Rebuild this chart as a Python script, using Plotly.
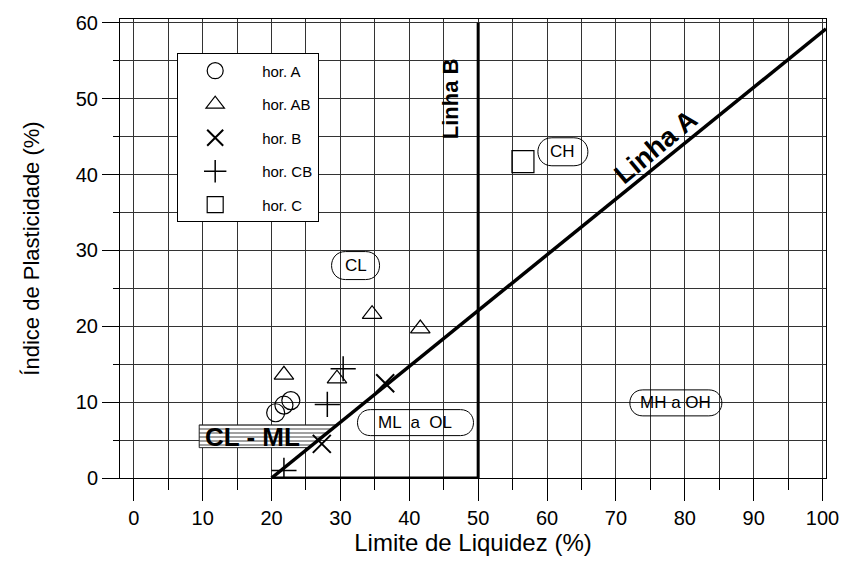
import plotly.graph_objects as go

# ---------------- data ----------------
series_names = ["hor. A", "hor. AB", "hor. B", "hor. CB", "hor. C"]
horA_x = [21.8, 22.8, 20.6]
horA_y = [9.6, 10.2, 8.6]
horAB_x = [21.8, 29.5, 34.6, 41.6]
horAB_y = [13.6, 13.1, 21.6, 19.7]
horB_x = [36.5, 27.3]
horB_y = [12.5, 4.5]
horCB_x = [30.4, 28.1, 21.8]
horCB_y = [14.4, 9.7, 1.0]
horC_x = [56.5]
horC_y = [41.7]

# reference lines of the plasticity chart
lineA_x = [20, 100.5]
lineA_y = [0, 59.2]
lineB_x = [50, 50]
lineB_y = [0, 60]
base_x = [20, 50]
base_y = [0, 0]
# CL-ML hatched band
band_x = [9.5, 25.5, 29.6, 9.5, 9.5]
band_y = [4, 4, 7, 7, 4]

x_ticks = [0, 10, 20, 30, 40, 50, 60, 70, 80, 90, 100]
y_ticks = [0, 10, 20, 30, 40, 50, 60]

FONT = "Liberation Sans, Arial, sans-serif"

fig = go.Figure()

# hatched band
fig.add_trace(go.Scatter(
    x=band_x, y=band_y, mode="lines", fill="toself",
    line=dict(color="#222", width=1),
    fillcolor="rgba(0,0,0,0)",
    fillpattern=dict(shape="-", fgcolor="#444", bgcolor="white", size=4, solidity=0.5),
    showlegend=False, hoverinfo="skip"))

for lx, ly, w in [(lineA_x, lineA_y, 3.5), (lineB_x, lineB_y, 3), (base_x, base_y, 3)]:
    fig.add_trace(go.Scatter(x=lx, y=ly, mode="lines",
                             line=dict(color="black", width=w),
                             showlegend=False, hoverinfo="skip"))

marker_specs = [
    (horA_x, horA_y, "circle-open", 18, 1.2),
    (horAB_x, horAB_y, "triangle-up-open", 17, 1.2),
    (horB_x, horB_y, "x-thin-open", 18, 2),
    (horCB_x, horCB_y, "cross-thin-open", 18, 1.5),
    (horC_x, horC_y, "square-open", 22, 1.2),
]
for name, (mx, my, sym, sz, lw) in zip(series_names, marker_specs):
    fig.add_trace(go.Scatter(
        x=mx, y=my, mode="markers", name=name, legendgroup=name,
        marker=dict(symbol=sym, size=sz, color="black",
                    line=dict(color="black", width=lw))))

# stadium-shaped label boxes
def stadium(W, H):
    k = 1.333 * H
    a = W - H
    return (f"M {-a},{-H} L {a},{-H} C {a + k},{-H} {a + k},{H} {a},{H} "
            f"L {-a},{H} C {-a - k},{H} {-a - k},{-H} {-a},{-H} Z")

labels = [
    ("CL", 32.2, 28.0, 24, 14),
    ("CH", 62.3, 43.0, 25, 14),
    ("MH a OH", 78.7, 9.9, 46, 13),
    ("ML  a  OL", 40.9, 7.3, 58, 13),
]
for txt, lx, ly, W, H in labels:
    fig.add_shape(type="path", xref="x", yref="y", xsizemode="pixel", ysizemode="pixel",
                  xanchor=lx, yanchor=ly, path=stadium(W, H),
                  line=dict(color="black", width=1))
    fig.add_annotation(x=lx, y=ly, text=txt, showarrow=False,
                       font=dict(family=FONT, size=17, color="black"))

fig.add_annotation(x=17.2, y=5.4, text="<b>CL - ML</b>", showarrow=False,
                   font=dict(family=FONT, size=26, color="black"))
fig.add_annotation(x=46.0, y=50.0, text="<b>Linha B</b>", textangle=-90, showarrow=False,
                   font=dict(family=FONT, size=22, color="black"))
fig.add_annotation(x=75.8, y=43.6, text="<b>Linha A</b>", textangle=-40, showarrow=False,
                   font=dict(family=FONT, size=27, color="black"))

axis_common = dict(
    showline=True, linecolor="black", linewidth=1, mirror=True,
    gridcolor="#333", gridwidth=1, zeroline=False,
    ticks="outside", tickcolor="black", tickwidth=1,
    tickfont=dict(family=FONT, size=20, color="black"),
)
fig.update_xaxes(range=[-2, 100.5], tickvals=x_ticks, ticklen=22,
                 minor=dict(dtick=5, tick0=0, ticks="outside", ticklen=11,
                            tickcolor="black", showgrid=True, gridcolor="#333", gridwidth=1),
                 title=dict(text="Limite de Liquidez (%)", standoff=6,
                            font=dict(family=FONT, size=24, color="black")),
                 **axis_common)
fig.update_yaxes(range=[0, 60.5], tickvals=y_ticks, ticklen=17,
                 minor=dict(dtick=5, tick0=0, ticks="outside", ticklen=6,
                            tickcolor="black", showgrid=True, gridcolor="#333", gridwidth=1),
                 title=dict(text="Índice de Plasticidade (%)", standoff=30,
                            font=dict(family=FONT, size=22, color="black")),
                 **axis_common)

fig.update_layout(
    width=852, height=564,
    margin=dict(l=120, r=26, t=16, b=83),
    paper_bgcolor="white", plot_bgcolor="white",
    font=dict(family=FONT, color="black"),
    legend=dict(x=0.081, y=0.925, xanchor="left", yanchor="top",
                bgcolor="white", bordercolor="black", borderwidth=1,
                traceorder="grouped", tracegroupgap=11, itemwidth=84, indentation=-10,
                font=dict(family=FONT, size=15, color="black")),
    showlegend=True,
)

fig.write_html("out.html")
